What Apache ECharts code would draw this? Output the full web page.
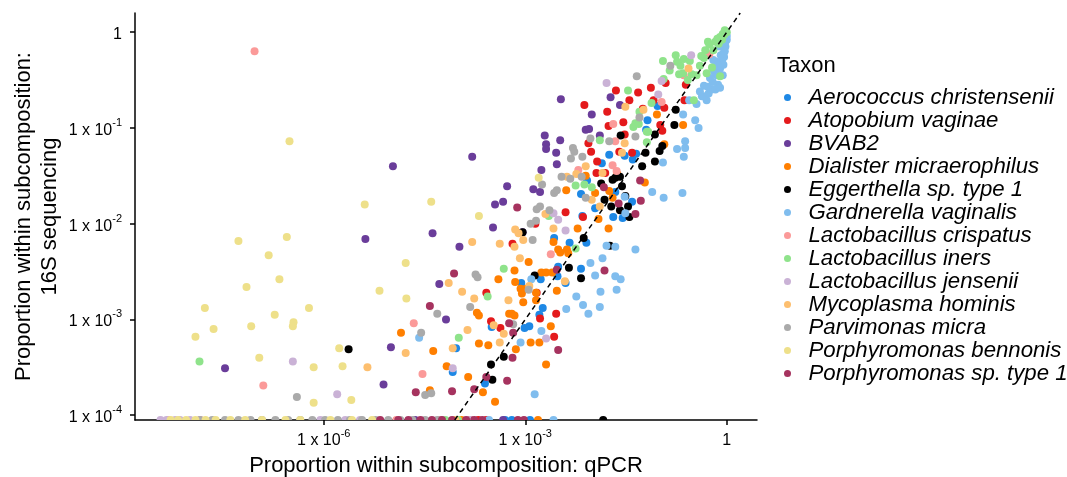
<!DOCTYPE html>
<html>
<head>
<meta charset="utf-8">
<script src="https://cdn.jsdelivr.net/npm/echarts@6/dist/echarts.min.js"></script>
<style>
  html, body { margin: 0; padding: 0; background: #fff; }
  #chart { width: 1067px; height: 477px; }
</style>
</head>
<body>
<div id="chart"></div>
<script>
// values are log10 of the proportions: [qPCR, 16S]
const taxa = [
  'Aerococcus christensenii', 'Atopobium vaginae', 'BVAB2', 'Dialister micraerophilus',
  'Eggerthella sp. type 1', 'Gardnerella vaginalis', 'Lactobacillus crispatus',
  'Lactobacillus iners', 'Lactobacillus jensenii', 'Mycoplasma hominis',
  'Parvimonas micra', 'Porphyromonas bennonis', 'Porphyromonas sp. type 1'
];
const colors = [
  '#1E88E5', '#E41A1C', '#6A3D9A', '#FF7F00', '#000000', '#80BDEE', '#FB9A99',
  '#8FE38B', '#CAB2D6', '#FDBF6F', '#AAAAAA', '#EEE08A', '#A6335F'
];

const aerococcus = [[-1.03,-0.77],[-1.18,-0.92],[-1.75,-1.28],[-1.52,-1.29],[-1.35,-1.27],[-1.40,-1.33],[-1.86,-1.37],[-2.08,-1.55],[-1.66,-1.67],[-1.69,-1.93],[-1.55,-1.94],[-1.41,-1.77],[-2.17,-1.69],[-2.15,-1.92],[-2.09,-2.20],[-2.34,-2.20],[-2.17,-2.47],[-2.52,-2.55],[-2.51,-2.45],[-2.77,-2.58],[-3.06,-2.62],[-2.74,-2.88],[-2.94,-3.07],[-3.01,-3.09],[-2.79,-2.95],[-3.50,-3.08],[-4.03,-3.30],[-4.08,-3.55],[-3.60,-3.67],[-2.57,-2.15],[-1.20,-1.02],[-1.96,-1.84],[-2.40,-2.62]];
const atopobium = [[-0.61,-0.55],[-0.63,-0.71],[-0.91,-0.53],[-1.65,-0.61],[-1.32,-0.63],[-1.45,-0.71],[-2.12,-0.76],[-1.78,-0.83],[-1.54,-0.94],[-1.76,-0.98],[-1.25,-0.80],[-1.09,-0.71],[-0.93,-0.79],[-0.99,-0.97],[-0.96,-1.03],[-1.52,-1.07],[-2.06,-1.16],[-2.02,-1.25],[-1.60,-1.25],[-1.41,-1.26],[-1.94,-1.47],[-1.81,-1.47],[-1.93,-1.35],[-2.14,-1.93],[-3.19,-2.21],[-2.85,-2.00],[-2.83,-2.72],[-2.54,-2.94],[-2.78,-2.99],[-2.57,-3.18],[-3.51,-3.02],[-3.37,-3.09],[-3.58,-2.72],[-1.13,-0.58],[-2.40,-1.88]];
const bvab2 = [[-4.97,-1.40],[-5.38,-2.16],[-4.38,-2.10],[-4.28,-2.63],[-4.18,-3.00],[-5.00,-3.29],[-7.47,-3.51],[-5.11,-3.68],[-3.27,-1.61],[-2.88,-1.64],[-2.78,-1.67],[-3.45,-1.80],[-3.33,-1.77],[-3.48,-2.04],[-3.04,-2.09],[-3.98,-2.24],[-2.47,-0.70],[-2.01,-0.86],[-2.10,-1.02],[-2.05,-1.01],[-2.71,-1.08],[-2.69,-1.17],[-2.69,-1.22],[-2.48,-1.13],[-2.54,-1.26],[-3.79,-1.30],[-2.53,-1.38],[-2.76,-1.44],[-1.73,-0.68],[-1.59,-0.76],[-1.89,-1.08]];
const dialister = [[-4.85,-3.14],[-4.37,-3.33],[-4.42,-3.74],[-3.72,-2.93],[-3.69,-2.96],[-3.24,-2.94],[-3.69,-3.25],[-3.55,-3.27],[-4.17,-3.49],[-3.85,-3.60],[-3.63,-3.76],[-3.45,-3.86],[-3.16,-2.49],[-2.76,-2.51],[-2.69,-2.51],[-2.60,-2.51],[-3.15,-2.61],[-3.07,-2.68],[-2.99,-2.68],[-3.05,-2.73],[-2.84,-2.72],[-2.53,-2.70],[-2.58,-2.19],[-2.51,-2.27],[-2.48,-2.30],[-2.38,-2.27],[-2.36,-2.31],[-3.03,-2.82],[-2.84,-2.80],[-2.62,-3.07],[-2.92,-3.24],[-2.79,-3.24],[-3.14,-3.31],[-2.69,-3.47],[-3.20,-2.94],[-3.16,-2.96],[-2.10,-1.50],[-1.63,-1.48],[-1.75,-1.66],[-1.70,-1.73],[-1.96,-1.68],[-1.76,-2.05],[-1.91,-1.95],[-1.04,-0.86],[-0.65,-0.97],[-0.93,-1.17],[-1.22,-1.57],[-2.39,-1.65],[-3.40,-2.58],[-2.95,-2.40],[-2.22,-2.05]];
const eggerthella = [[-5.63,-3.31],[-3.32,-3.39],[-3.51,-3.47],[-3.49,-3.63],[-2.86,-2.54],[-2.35,-2.46],[-2.17,-2.57],[-2.13,-2.15],[-1.74,-2.23],[-1.87,-1.58],[-1.70,-1.54],[-1.66,-1.52],[-1.59,-1.51],[-1.56,-1.61],[-1.51,-1.71],[-1.82,-1.75],[-1.72,-1.82],[-1.59,-1.86],[-1.45,-1.93],[-1.47,-1.82],[-1.07,-1.07],[-0.96,-1.19],[-1.00,-1.24],[-1.21,-1.26],[-1.07,-1.35],[-1.26,-1.40],[-0.76,-0.81],[-0.78,-0.97],[-1.58,-1.08],[-3.04,-2.09]];
const gardnerella = [[0.00,-0.08],[-0.02,-0.15],[-0.05,-0.22],[-0.07,-0.29],[-0.05,-0.34],[-0.10,-0.38],[-0.16,-0.31],[-0.20,-0.29],[-0.15,-0.45],[-0.13,-0.55],[-0.17,-0.60],[-0.23,-0.60],[-0.28,-0.57],[-0.34,-0.56],[-0.32,-0.67],[-0.30,-0.71],[-0.45,-0.75],[-0.47,-0.92],[-0.42,-1.00],[-0.65,-0.86],[-0.62,-1.14],[-0.74,-1.22],[-0.62,-1.21],[-0.64,-1.30],[-0.95,-1.36],[-1.11,-1.67],[-0.94,-1.73],[-0.66,-1.68],[-1.36,-2.27],[-1.66,-2.24],[-1.79,-2.23],[-1.85,-2.36],[-2.03,-2.41],[-1.96,-2.54],[-1.66,-2.55],[-1.58,-2.58],[-1.64,-2.69],[-1.88,-2.71],[-2.24,-2.76],[-2.14,-2.85],[-2.06,-2.94],[-1.89,-2.87],[-2.39,-2.89],[-2.76,-3.12],[-3.07,-3.24],[-2.86,-3.78],[-4.58,-3.19],[-1.52,-1.72],[-1.51,-1.89],[-2.91,-2.58],[-0.25,-0.48],[-0.11,-0.15],[0.00,-0.04],[-0.37,-0.67],[-0.56,-0.71],[-0.08,-0.12],[-0.04,-0.26],[-0.19,-0.41],[-0.27,-0.64],[-0.03,-0.20],[-0.09,-0.24],[-0.12,-0.35],[-0.06,-0.45],[-0.21,-0.52],[-0.40,-0.62],[-0.10,-0.58],[-0.02,-0.10]];
const crispatus = [[-7.03,-0.20],[-4.66,-3.04],[-4.53,-3.57],[-6.90,-3.69],[-2.62,-2.32],[-2.21,-1.44],[-1.69,-0.96],[-1.66,-1.14],[-1.70,-1.39],[-1.64,-1.45],[-0.64,-0.45],[-0.14,-0.08],[-0.26,-0.23],[-0.97,-0.73]];
const iners = [[0.00,0.00],[-0.04,-0.03],[-0.10,-0.05],[-0.14,-0.07],[-0.17,-0.10],[-0.28,-0.10],[-0.32,-0.19],[-0.34,-0.27],[-0.38,-0.25],[-0.20,-0.19],[-0.22,-0.37],[-0.30,-0.43],[-0.45,-0.45],[-0.52,-0.44],[-0.65,-0.43],[-0.71,-0.44],[-0.69,-0.35],[-0.76,-0.24],[-0.74,-0.31],[-0.64,-0.28],[-0.95,-0.30],[-0.94,-0.49],[-1.47,-0.61],[-0.49,-0.71],[-0.10,-0.46],[-1.12,-0.74],[-1.30,-0.83],[-1.36,-0.95],[-1.19,-1.15],[-1.19,-1.04],[-1.89,-1.13],[-2.25,-1.60],[-2.12,-1.59],[-2.01,-1.62],[-2.65,-1.92],[-2.25,-2.26],[-3.32,-2.47],[-3.56,-2.76],[-3.99,-3.19],[-7.85,-3.44],[-0.03,0.02],[-0.07,-0.08],[-0.26,-0.13],[-1.39,-0.99],[-1.31,-0.96],[-1.17,-1.04],[-0.06,-0.02],[-0.12,-0.12],[-0.40,-0.35],[-0.55,-0.30],[-0.85,-0.40],[-0.58,-0.50]];
const jensenii = [[-6.46,-3.44],[-5.80,-3.78],[-4.08,-3.51],[-2.69,-3.20],[-2.58,-1.89],[-1.79,-0.53],[-0.53,-0.24],[-0.97,-0.51],[-1.02,-0.65],[-2.51,-1.96],[-2.40,-2.07]];
const mycoplasma = [[-5.35,-3.50],[-4.78,-3.35],[-3.94,-2.71],[-3.76,-2.78],[-3.25,-2.80],[-3.86,-3.11],[-3.47,-3.06],[-3.32,-3.15],[-3.38,-3.24],[-4.08,-3.30],[-4.14,-2.62],[-3.15,-2.06],[-3.10,-2.10],[-3.03,-2.17],[-3.79,-2.19],[-3.38,-2.21],[-3.16,-2.24],[-3.08,-2.36],[-2.41,-2.60],[-2.94,-2.65],[-2.10,-1.40],[-2.38,-1.51],[-1.51,-0.78],[-0.57,-0.38],[-1.24,-0.81],[-1.52,-1.16],[-1.85,-1.47],[-2.01,-1.75],[-1.89,-1.82],[-1.56,-1.26],[-2.24,-1.48],[-2.70,-1.90],[-2.58,-2.05]];
const parvimonas = [[-6.40,-3.81],[-4.55,-3.14],[-4.31,-2.94],[-4.49,-3.79],[-4.40,-3.77],[-3.82,-2.87],[-3.74,-2.53],[-3.71,-2.56],[-2.95,-2.69],[-3.18,-3.05],[-2.92,-2.00],[-2.84,-1.97],[-2.89,-2.17],[-2.83,-1.85],[-2.78,-1.82],[-2.64,-1.86],[-2.75,-1.59],[-2.57,-1.68],[-2.53,-1.65],[-2.29,-1.21],[-2.27,-1.25],[-2.32,-1.32],[-2.15,-1.30],[-2.03,-1.11],[-2.46,-1.51],[-2.33,-1.53],[-2.16,-1.51],[-1.75,-1.14],[-1.36,-1.09],[-1.34,-0.46],[-0.84,-0.35],[-1.30,-0.89],[-2.10,-1.73]];
const bennonis = [[-6.51,-1.14],[-5.39,-1.80],[-4.40,-1.77],[-7.27,-2.18],[-6.55,-2.14],[-6.82,-2.33],[-4.78,-2.41],[-6.66,-2.58],[-7.15,-2.66],[-5.17,-2.70],[-4.77,-2.78],[-7.77,-2.88],[-6.73,-2.95],[-6.22,-2.88],[-7.08,-3.07],[-6.45,-3.03],[-6.46,-3.07],[-7.64,-3.10],[-7.91,-3.18],[-5.77,-3.30],[-6.96,-3.40],[-6.15,-3.50],[-5.72,-3.49],[-6.15,-3.87],[-5.59,-3.84],[-3.69,-1.92],[-2.80,-1.52]];
const porphSp = [[-4.42,-2.86],[-4.63,-3.76],[-3.76,-3.73],[-3.58,-3.60],[-3.27,-3.64],[-3.24,-3.04],[-4.06,-2.52],[-3.12,-1.83],[-2.53,-2.48],[-1.82,-2.49],[-2.51,-3.32],[-3.18,-3.14],[-3.19,-3.40],[-1.29,-1.55],[-1.83,-1.62],[-1.28,-1.76],[-1.61,-1.79],[-1.36,-1.90],[-4.09,-3.75]];

// qPCR values (log10) of samples with no 16S reads, drawn on the lower edge
const aerococcusZero = [-3.30, -3.20, -2.93];
const atopobiumZero = [-3.82, -3.70, -3.58];
const bvab2Zero = [-4.64, -4.27, -3.33];
const dialisterZero = [-3.95, -2.81];
const eggerthellaZero = [-1.84];
const gardnerellaZero = [-3.54, -2.58];
const crispatusZero = [-8.31, -7.84, -4.92, -4.27];
const inersZero = [-4.19, -4.00];
const jenseniiZero = [-8.43, -8.34, -8.21, -8.14, -7.99, -6.05, -5.68, -5.46, -3.82];
const mycoplasmaZero = [-4.04];
const parvimonasZero = [-7.84, -7.66, -7.47, -7.27, -7.09, -6.92, -6.72, -6.53, -6.35, -6.17, -5.98, -5.79, -5.61, -5.43, -5.23, -5.04, -4.86, -4.68, -4.49, -4.31];
const bennonisZero = [-8.28, -8.17, -8.05, -7.91, -7.76, -7.61, -7.39, -7.17, -6.92, -6.57, -6.35, -5.90, -5.58, -5.28];
const porphSpZero = [-5.16, -4.89, -4.74, -4.56, -4.39, -4.24, -4.09, -3.88, -3.76, -3.64, -3.11, -3.02];

const points = [aerococcus, atopobium, bvab2, dialister, eggerthella, gardnerella, crispatus, iners, jensenii, mycoplasma, parvimonas, bennonis, porphSp];
const zeros = [aerococcusZero, atopobiumZero, bvab2Zero, dialisterZero, eggerthellaZero, gardnerellaZero, crispatusZero, inersZero, jenseniiZero, mycoplasmaZero, parvimonasZero, bennonisZero, porphSpZero];

const xTicks = [-6, -3, 0];
const yTicks = [-4, -3, -2, -1, 0];
const xMin = -8.81, xMax = 0.45;
const yMin = -4.05, yMax = 0.2;

const font = '"Liberation Sans", Arial, Helvetica, sans-serif';
const halfDot = 'path://M0,10 A10,10 0 0 1 20,10 Z';

function powLabel(v) {
  return v === 0 ? '{n|1}' : '{n|1 x 10}{sup|' + v + '}';
}
const labelRich = {
  n: { fontSize: 16, fontFamily: font, color: '#000', lineHeight: 21, verticalAlign: 'bottom' },
  sup: { fontSize: 11, fontFamily: font, color: '#000', lineHeight: 21, verticalAlign: 'top', padding: [0, 0, 6, 0] }
};

const series = taxa.map((name, i) => ({
  name: name,
  type: 'scatter',
  symbol: 'circle',
  symbolSize: 8,
  itemStyle: { color: colors[i], opacity: 1 },
  data: points[i].concat(zeros[i].map(x => ({
    value: [x, yMin],
    symbol: halfDot,
    symbolSize: [8, 4],
    symbolOffset: [0, -2]
  }))),
  z: 3
}));

series.push({
  name: 'identity',
  type: 'line',
  data: [[yMin, yMin], [yMax, yMax]],
  symbol: 'none',
  silent: true,
  lineStyle: { color: '#000', width: 1.5, type: [5, 4] },
  z: 5
});

const chart = echarts.init(document.getElementById('chart'));
chart.setOption({
  animation: false,
  backgroundColor: '#fff',
  textStyle: { fontFamily: font },
  grid: { left: 135, right: 310, top: 13, bottom: 57, containLabel: false, outerBoundsMode: 'none' },
  title: {
    text: 'Taxon', left: 772, top: 50,
    textStyle: { fontSize: 22, fontWeight: 'normal', color: '#000', fontFamily: font }
  },
  legend: {
    data: taxa,
    orient: 'vertical',
    left: 784, top: 86,
    padding: 0,
    itemGap: 0,
    itemWidth: 28,
    itemHeight: 7,
    icon: 'circle',
    textStyle: { fontSize: 22.2, fontStyle: 'italic', color: '#000', lineHeight: 23, fontFamily: font, padding: [0, 0, 0, 2] }
  },
  xAxis: {
    type: 'value', min: xMin, max: xMax,
    name: 'Proportion within subcomposition: qPCR',
    nameLocation: 'middle', nameGap: 35, nameMoveOverlap: false,
    nameTextStyle: { fontSize: 22, color: '#000', fontFamily: font },
    axisLine: { onZero: false, lineStyle: { color: '#000', width: 1.5 } },
    axisTick: { customValues: xTicks, length: 5, lineStyle: { color: '#000', width: 1.5 } },
    axisLabel: { customValues: xTicks, margin: 8, formatter: powLabel, rich: labelRich },
    splitLine: { show: false }
  },
  yAxis: {
    type: 'value', min: yMin, max: yMax,
    name: 'Proportion within subcomposition:\n16S sequencing',
    nameLocation: 'middle', nameGap: 72, nameRotate: 90, nameMoveOverlap: false,
    nameTextStyle: { fontSize: 22, color: '#000', fontFamily: font, lineHeight: 26 },
    axisLine: { onZero: false, lineStyle: { color: '#000', width: 1.5 } },
    axisTick: { customValues: yTicks, length: 5, lineStyle: { color: '#000', width: 1.5 } },
    axisLabel: { customValues: yTicks, margin: 13, formatter: powLabel, rich: labelRich },
    splitLine: { show: false }
  },
  series: series
});
</script>
</body>
</html>
